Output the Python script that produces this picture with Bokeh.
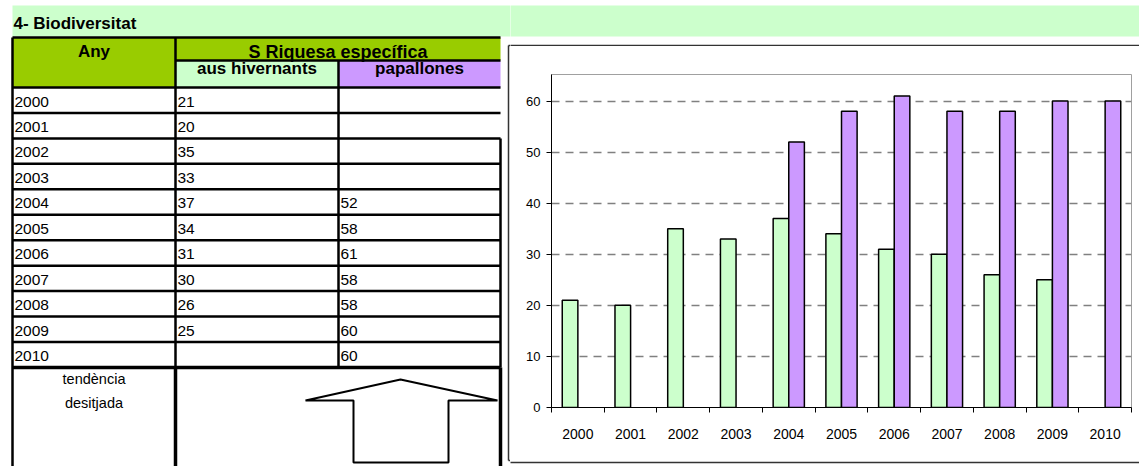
import numpy as np
from bokeh.plotting import figure
from bokeh.layouts import column, row
from bokeh.models import Range1d, FixedTicker, ColumnDataSource
from bokeh.transform import dodge
from bokeh.embed import file_html
from bokeh.resources import INLINE
from bokeh.core.properties import value

# ---------------- data ----------------
years = ["2000", "2001", "2002", "2003", "2004", "2005", "2006", "2007", "2008", "2009", "2010"]
aus_hivernants = [21, 20, 35, 33, 37, 34, 31, 30, 26, 25, None]
papallones = [None, None, None, None, 52, 58, 61, 58, 58, 60, 60]
title_text = "4- Biodiversitat"
header_any = "Any"
header_group = "S Riquesa específica"
series_names = ["aus hivernants", "papallones"]
trend_label = ["tendència", "desitjada"]
y_ticks = [0, 10, 20, 30, 40, 50, 60]

# ---------------- styles ----------------
FONT = "Liberation Sans"
G_DARK = "#99CC00"
G_LIGHT = "#CCFFCC"
PURPLE = "#CC99FF"
BORDER = "#333333"
TXT_SHIFT = 6          # baseline correction for text glyphs

PAGE_W, PAGE_H = 1139, 466
SPLIT_X = 510          # where the table panel ends and the chart panel starts
BAND_TOP, BAND_BOT = 5, 36
BOX_L, BOX_T, BOX_B = 508, 45, 460   # outer chart box


def panel(w, h, x0, x1, y0, y1):
    f = figure(width=w, height=h, x_range=Range1d(x0, x1), y_range=Range1d(y1, y0),
               min_border=0, toolbar_location=None, output_backend="svg",
               x_axis_location=None, y_axis_location=None, title=None, frame_align=False)
    f.outline_line_color = None
    f.background_fill_color = "white"
    f.border_fill_color = "white"
    for g in f.grid:
        g.visible = False
    return f


# ---------------- left panel: band + table ----------------
tbl = panel(SPLIT_X, PAGE_H, 0, SPLIT_X, 0, PAGE_H)
tbl.quad(left=[12], right=[SPLIT_X], top=[BAND_TOP], bottom=[BAND_BOT], fill_color=G_LIGHT, line_color=None)
tbl.text(x=[13], y=[29 - TXT_SHIFT], text=[title_text], text_font=value(FONT), text_font_size="17px",
         text_font_style="bold", text_baseline="alphabetic", text_color="black")

c0, c1, c2, c3 = 12, 175, 338, 500
h_top, h_mid, h_bot = 37, 60, 87
row_h = 25.45
n = len(years)
row_tops = [h_bot + i * row_h for i in range(n)]
trend_top = h_bot + n * row_h
bottom = PAGE_H + 5

# header fills
tbl.quad(left=[c0, c1, c1, c2], right=[c1, c3, c2, c3],
         top=[h_top, h_top, h_mid, h_mid], bottom=[h_bot, h_mid, h_bot, h_bot],
         fill_color=[G_DARK, G_DARK, G_LIGHT, PURPLE], line_color=None)

# grid lines
hx0, hx1, hy = [], [], []
for yv in [h_top, h_bot] + [t + row_h for t in row_tops[:-1]]:
    hx0.append(c0); hx1.append(c3); hy.append(yv)
hx0.append(c1); hx1.append(c3); hy.append(h_mid)
tbl.segment(x0=hx0, y0=hy, x1=hx1, y1=hy, line_color="black", line_width=2.5)
vx = [c0, c1, c2, c3]
vy0 = [h_top, h_top, h_mid, row_tops[2]]
vy1 = [bottom, trend_top, trend_top, trend_top]
tbl.segment(x0=vx, y0=vy0, x1=vx, y1=vy1, line_color="black", line_width=2.5)
tbl.segment(x0=[c0, c1, c3], y0=[trend_top, trend_top, trend_top],
            x1=[c3, c1, c3], y1=[trend_top, bottom, bottom], line_color="black", line_width=3.5)

# header texts
tbl.text(x=[(c0 + c1) / 2, (c1 + c3) / 2], y=[57 - TXT_SHIFT, 57 - TXT_SHIFT],
         text=[header_any, header_group],
         text_font=value(FONT), text_font_size=["17px", "18px"], text_font_style="bold",
         text_align="center", text_baseline="alphabetic", text_color="black")
tbl.text(x=[(c1 + c2) / 2, (c2 + c3) / 2], y=[74 - TXT_SHIFT, 74 - TXT_SHIFT],
         text=series_names,
         text_font=value(FONT), text_font_size="17px", text_font_style="bold",
         text_align="center", text_baseline="alphabetic", text_color="black")

# data texts
tx, ty, tt = [], [], []
for i, yr in enumerate(years):
    base = row_tops[i] + 14
    tx.append(c0 + 2); ty.append(base); tt.append(yr)
    if aus_hivernants[i] is not None:
        tx.append(c1 + 2); ty.append(base); tt.append(str(aus_hivernants[i]))
    if papallones[i] is not None:
        tx.append(c2 + 2); ty.append(base); tt.append(str(papallones[i]))
tbl.text(x=tx, y=ty, text=tt, text_font=value(FONT), text_font_size="15.5px",
         text_baseline="alphabetic", text_color="black")

# trend label
tbl.text(x=[(c0 + c1) / 2] * 2, y=[trend_top + 12, trend_top + 36],
         text=trend_label, text_font=value(FONT), text_font_size="14.5px", text_align="center",
         text_baseline="alphabetic", text_color="black")

# upward arrow (desired trend)
ax = [400, 497, 448, 448, 353, 353, 305]
ay = [trend_top + 12, trend_top + 33, trend_top + 33, trend_top + 95,
      trend_top + 95, trend_top + 33, trend_top + 33]
tbl.patch(x=ax, y=ay, fill_color="white", line_color="black", line_width=2)

# left part of outer chart box
tbl.segment(x0=[BOX_L, BOX_L, BOX_L], y0=[BOX_T, BOX_T, BOX_B],
            x1=[BOX_L, SPLIT_X + 1, SPLIT_X + 1], y1=[BOX_B, BOX_T, BOX_B],
            line_color=BORDER, line_width=1.5)

# ---------------- right panel ----------------
RW = PAGE_W - SPLIT_X
TOP_H = 46
BOT_H = 10
CH_H = PAGE_H - TOP_H - BOT_H

top = panel(RW, TOP_H, SPLIT_X, PAGE_W, 0, TOP_H)
top.quad(left=[SPLIT_X - 1], right=[PAGE_W + 1], top=[BAND_TOP], bottom=[BAND_BOT], fill_color=G_LIGHT, line_color=None)
top.segment(x0=[SPLIT_X - 1], y0=[BOX_T], x1=[PAGE_W + 2], y1=[BOX_T], line_color=BORDER, line_width=1.5)

bot = panel(RW, BOT_H, SPLIT_X, PAGE_W, PAGE_H - BOT_H, PAGE_H)
bot.segment(x0=[SPLIT_X - 1], y0=[BOX_B], x1=[PAGE_W + 2], y1=[BOX_B], line_color=BORDER, line_width=1.5)

chart = figure(width=RW, height=CH_H, x_range=Range1d(-0.5, n - 0.5), y_range=Range1d(0, 65.2),
               min_border_left=41, min_border_right=8, min_border_top=28, min_border_bottom=49,
               toolbar_location=None, output_backend="svg", title=None, frame_align=False)
chart.background_fill_color = "white"
chart.border_fill_color = "white"
chart.outline_line_color = "#A0A0A0"
chart.outline_line_width = 1

src = ColumnDataSource(dict(
    idx=np.arange(n, dtype=float),
    aus=np.array([np.nan if v is None else v for v in aus_hivernants], dtype=float),
    pap=np.array([np.nan if v is None else v for v in papallones], dtype=float),
))

chart.xgrid.visible = False
chart.ygrid.ticker = FixedTicker(ticks=y_ticks[1:])
chart.ygrid.grid_line_color = "#808080"
chart.ygrid.grid_line_width = 1.5
chart.ygrid.grid_line_dash = "8 6"

chart.vbar(x=dodge("idx", -0.148), top="aus", width=0.296, source=src,
           fill_color=G_LIGHT, line_color="black", line_width=1.5)
chart.vbar(x=dodge("idx", 0.148), top="pap", width=0.296, source=src,
           fill_color=PURPLE, line_color="black", line_width=1.5)

yax = chart.yaxis[0]
yax.ticker = FixedTicker(ticks=y_ticks)
yax.axis_line_color = "black"
yax.major_tick_line_color = "black"
yax.major_tick_out = 5
yax.major_tick_in = 0
yax.minor_tick_line_color = None
yax.major_label_standoff = 6
yax.major_label_text_font = FONT
yax.major_label_text_font_size = "13px"
yax.major_label_text_color = "black"

xax = chart.xaxis[0]
xax.ticker = FixedTicker(ticks=list(range(n)), minor_ticks=[i - 0.5 for i in range(n + 1)])
xax.major_label_overrides = {i: years[i] for i in range(n)}
xax.axis_line_color = "black"
xax.major_tick_line_color = None
xax.major_tick_out = 0
xax.major_tick_in = 0
xax.minor_tick_line_color = "black"
xax.minor_tick_out = 5
xax.minor_tick_in = 0
xax.major_label_standoff = 16
xax.major_label_text_font = FONT
xax.major_label_text_font_size = "14px"
xax.major_label_text_color = "black"

layout = row(tbl, column(top, chart, bot, spacing=0), spacing=0)
open("out.html", "w").write(file_html(layout, INLINE))
